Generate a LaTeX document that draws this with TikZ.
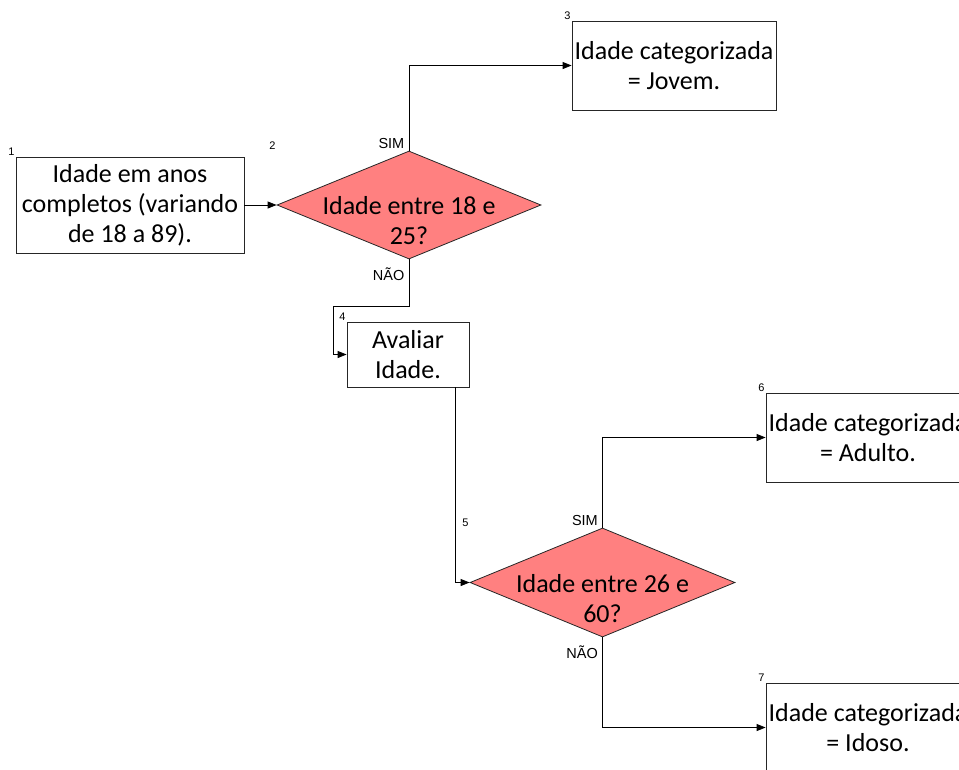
\documentclass[tikz,border=0pt]{standalone}
\usepackage{fontspec}
\setmainfont{Carlito}
\newfontfamily\arialfont{Liberation Sans}
\usepackage{tikz}
\usetikzlibrary{arrows.meta,shapes,positioning}
\definecolor{diafill}{RGB}{255,128,128}
\tikzset{
  procbox/.style={draw=black!85,line width=0.8pt,rectangle,inner sep=0pt,
    align=center,font=\fontsize{26}{30}\selectfont},
  decision/.style={draw=black!85,line width=0.8pt,diamond,fill=diafill,inner sep=0pt,
    minimum width=264pt,minimum height=108pt},
  dtext/.style={align=center,inner sep=0pt,font=\fontsize{26}{30}\selectfont},
  numlbl/.style={anchor=south east,inner sep=1pt,font=\arialfont\fontsize{11}{11}\selectfont},
  yesno/.style={inner sep=1.5pt,font=\arialfont\fontsize{14.5}{14.5}\selectfont}
}
\begin{document}
\begin{tikzpicture}[x=1pt,y=-1pt]
  \clip (0,0) rectangle (959,769);
  %draw boxes
    \node[procbox,minimum width=228pt,minimum height=96pt] (idade) at (130,205)
      {Idade em anos\\completos (variando\\de 18 a 89).};
    \node[procbox,minimum width=204pt,minimum height=89pt] (jovem) at (674,65.5)
      {Idade categorizada\\= Jovem.};
    \node[procbox,minimum width=122pt,minimum height=65pt] (avaliar) at (408,354.5)
      {Avaliar\\Idade.};
    \node[procbox,minimum width=204pt,minimum height=89pt] (adulto) at (868,437.5)
      {Idade categorizada\\= Adulto.};
    \node[procbox,minimum width=204pt,minimum height=89pt] (idoso) at (868,727.5)
      {Idade categorizada\\= Idoso.};
  %draw decisions
    \node[decision] (dec1) at (409,205) {};
    \node[dtext] (dec1t) at ([yshift=-16pt]dec1.center) {Idade entre 18 e\\25?};
    \node[decision,minimum width=265pt,minimum height=109pt] (dec2) at (602.5,582.5) {};
    \node[dtext] (dec2t) at ([yshift=-16pt]dec2.center) {Idade entre 26 e\\60?};
  %bends
    \coordinate (k1) at (333,306);
    \coordinate (k2) at ([xshift=-14pt]avaliar.south east);
  %draw directed edges
    \begin{scope}[every path/.style={line width=0.8pt,-{Triangle[length=9pt,width=7pt]}}]
       \draw (idade.east) -- (dec1.west);
       \draw (dec1.north) |- (jovem.west);
       \draw (dec1.south) |- (k1) |- (avaliar.west);
       \draw (k2) |- (dec2.west);
       \draw (dec2.north) |- (adulto.west);
       \draw (dec2.south) |- (idoso.west);
    \end{scope}
  %insert branch labels
    \node[yesno,anchor=south east] (sim1) at ([xshift=-3pt]dec1.north) {SIM};
    \node[yesno,anchor=north east] (nao1) at ([xshift=-3pt,yshift=-7pt]dec1.south) {NÃO};
    \node[yesno,anchor=south east] (sim2) at ([xshift=-3pt]dec2.north) {SIM};
    \node[yesno,anchor=north east] (nao2) at ([xshift=-3pt,yshift=-7pt]dec2.south) {NÃO};
  %insert step numbers
    \node[numlbl] (n1) at (idade.north west) {1};
    \node[numlbl] (n2) at (dec1.west |- dec1.north) {2};
    \node[numlbl] (n3) at (jovem.north west) {3};
    \node[numlbl] (n4) at (avaliar.north west) {4};
    \node[numlbl] (n5) at (dec2.west |- dec2.north) {5};
    \node[numlbl] (n6) at (adulto.north west) {6};
    \node[numlbl] (n7) at (idoso.north west) {7};
\end{tikzpicture}
\end{document}
